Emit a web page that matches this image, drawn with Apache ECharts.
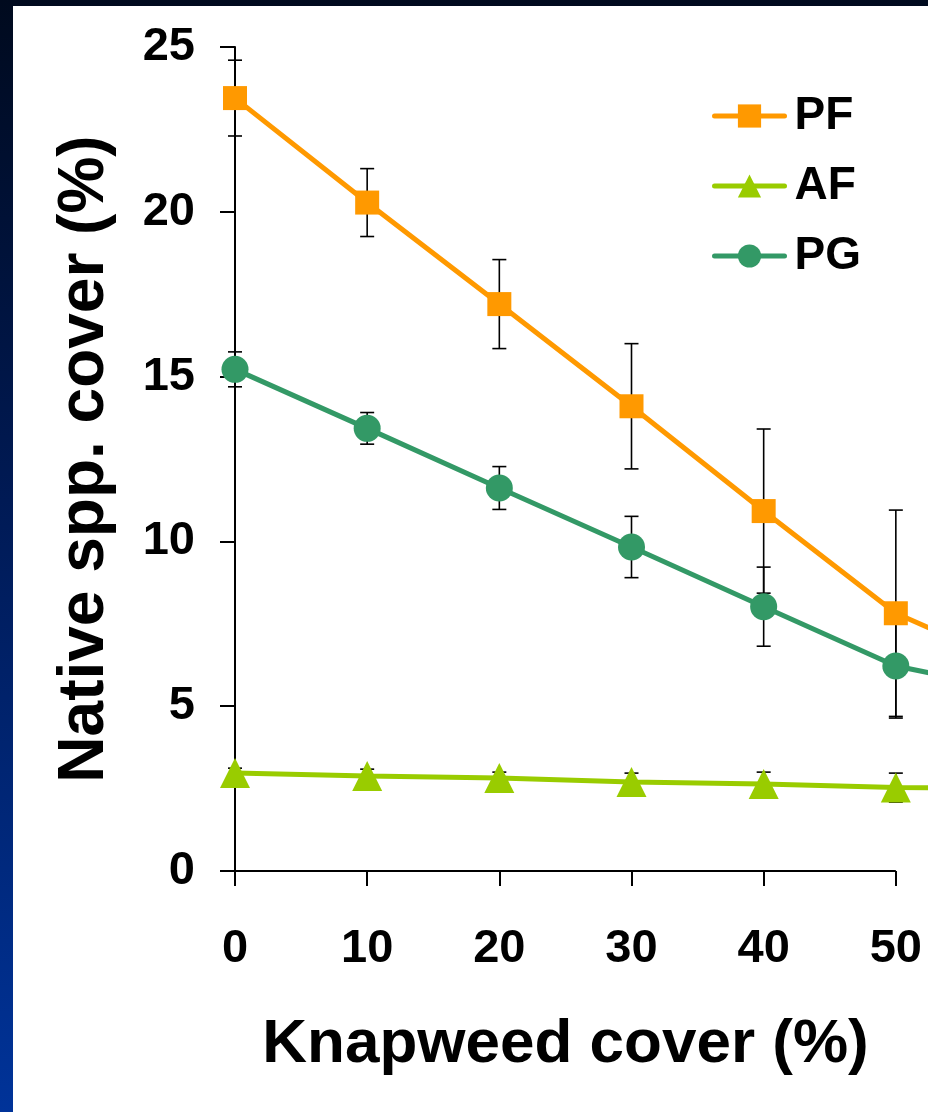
<!DOCTYPE html>
<html>
<head>
<meta charset="utf-8">
<script src="https://cdn.jsdelivr.net/npm/echarts@6/dist/echarts.min.js"></script>
<style>
  html, body { margin: 0; padding: 0; overflow: hidden; }
  body {
    width: 928px; height: 1112px; position: relative;
    background: linear-gradient(to bottom, #000a1e 0%, #001a55 45%, #003399 100%);
  }
  #clip { position: absolute; left: 13px; top: 6px; width: 915px; height: 1106px; overflow: hidden; background: #fff; }
  #chart { position: absolute; left: 0; top: 0; width: 1100px; height: 1106px; }
</style>
</head>
<body>
<div id="clip"><div id="chart"></div></div>
<script>
// ---- data ----
// (the 60 % column is only partly visible: its lines run off the right edge)
const knapweed = [0, 10, 20, 30, 40, 50, 60];
const seriesNames = ['PF', 'AF', 'PG'];
const pfMean = [23.45, 20.28, 17.2, 14.1, 10.92, 7.82, 6.05];
const pfErr  = [1.15, 1.03, 1.35, 1.9, 2.49, 3.13, null];
const afMean = [2.97, 2.88, 2.82, 2.7, 2.64, 2.53, 2.5];
const afErr  = [0.15, 0.21, 0.18, 0.27, 0.36, 0.44, null];
const pgMean = [15.22, 13.43, 11.62, 9.83, 8.02, 6.22, 5.4];
const pgErr  = [0.53, 0.48, 0.65, 0.93, 1.2, 1.58, null];
const yTicks = [0, 5, 10, 15, 20, 25];
const xTicks = [0, 10, 20, 30, 40, 50];

const colors = { PF: '#FF9900', AF: '#99CC00', PG: '#339966' };
const FONT = '"Liberation Sans", Arial, Helvetica, sans-serif';

function pairs(means) { return knapweed.map((x, i) => [x, means[i]]); }
function errRows(means, errs) {
  const rows = [];
  knapweed.forEach((x, i) => {
    if (errs[i] != null) rows.push([x, means[i] - errs[i], means[i] + errs[i]]);
  });
  return rows;
}
const errorData = [].concat(errRows(pfMean, pfErr), errRows(afMean, afErr), errRows(pgMean, pgErr));

const chart = echarts.init(document.getElementById('chart'), null, { renderer: 'canvas' });

const lineBase = { type: 'line', clip: false, z: 3, lineStyle: { width: 5 }, emphasis: { disabled: true } };
const xLast = xTicks[xTicks.length - 1];

chart.setOption({
  animation: false,
  backgroundColor: '#ffffff',
  grid: { left: 222, top: 41, width: 793, bottom: 241, containLabel: false },
  legend: {
    data: seriesNames,
    orient: 'vertical',
    left: 694, top: 82,
    itemWidth: 70, itemHeight: 29, itemGap: 24,
    lineStyle: { width: 5, cap: 'round' },
    textStyle: { fontFamily: FONT, fontWeight: 'bold', fontSize: 46, color: '#000', lineHeight: 46, padding: [0, 0, 0, 5] }
  },
  xAxis: {
    type: 'value', min: 0, max: knapweed[knapweed.length - 1], interval: 10,
    name: 'Knapweed cover (%)', nameLocation: 'middle', nameGap: 143,
    nameTextStyle: { fontFamily: FONT, fontWeight: 'bold', fontSize: 62, color: '#000', padding: [0, 132, 0, 0] },
    axisLine: { show: false },
    axisTick: { show: true, inside: false, length: 15, lineStyle: { color: '#000', width: 2 } },
    axisLabel: { margin: 55, fontFamily: FONT, fontWeight: 'bold', fontSize: 47, color: '#000', showMaxLabel: false,
      formatter: v => (v <= xLast ? String(v) : '') },
    splitLine: { show: false }
  },
  yAxis: {
    type: 'value', min: yTicks[0], max: yTicks[yTicks.length - 1], interval: 5,
    name: 'Native spp. cover (%)', nameLocation: 'middle', nameGap: 118,
    nameTextStyle: { fontFamily: FONT, fontWeight: 'bold', fontSize: 64, color: '#000' },
    axisLine: { show: true, lineStyle: { color: '#000', width: 2 } },
    axisTick: { show: true, inside: false, length: 15, lineStyle: { color: '#000', width: 2 } },
    axisLabel: { margin: 40, fontFamily: FONT, fontWeight: 'bold', fontSize: 47, color: '#000' },
    splitLine: { show: false }
  },
  series: [
    {
      type: 'custom', name: 'err', z: 1, clip: false, silent: true,
      data: errorData,
      encode: { x: 0, y: [1, 2] },
      renderItem: function (params, api) {
        const x = api.value(0), lo = api.value(1), hi = api.value(2);
        const pHi = api.coord([x, hi]);
        const pLo = api.coord([x, lo]);
        const hw = 7;
        const st = { stroke: '#000', lineWidth: 1.6 };
        return {
          type: 'group',
          children: [
            { type: 'line', shape: { x1: pHi[0], y1: pHi[1], x2: pLo[0], y2: pLo[1] }, style: st },
            { type: 'line', shape: { x1: pHi[0] - hw, y1: pHi[1], x2: pHi[0] + hw, y2: pHi[1] }, style: st },
            { type: 'line', shape: { x1: pLo[0] - hw, y1: pLo[1], x2: pLo[0] + hw, y2: pLo[1] }, style: st }
          ]
        };
      },
      markLine: {
        silent: true, symbol: ['none', 'none'], z: 1,
        label: { show: false },
        lineStyle: { color: '#000', width: 2, type: 'solid' },
        data: [[{ coord: [xTicks[0], 0] }, { coord: [xLast, 0] }]]
      }
    },
    Object.assign({}, lineBase, {
      name: 'PF', data: pairs(pfMean), symbol: 'rect', symbolSize: 24,
      itemStyle: { color: colors.PF }, lineStyle: { width: 5, color: colors.PF }
    }),
    Object.assign({}, lineBase, {
      name: 'AF', data: pairs(afMean), symbol: 'triangle', symbolSize: [30, 30],
      itemStyle: { color: colors.AF }, lineStyle: { width: 5, color: colors.AF }
    }),
    Object.assign({}, lineBase, {
      name: 'PG', data: pairs(pgMean), symbol: 'circle', symbolSize: 27,
      itemStyle: { color: colors.PG }, lineStyle: { width: 5, color: colors.PG }
    })
  ]
});
</script>
</body>
</html>
